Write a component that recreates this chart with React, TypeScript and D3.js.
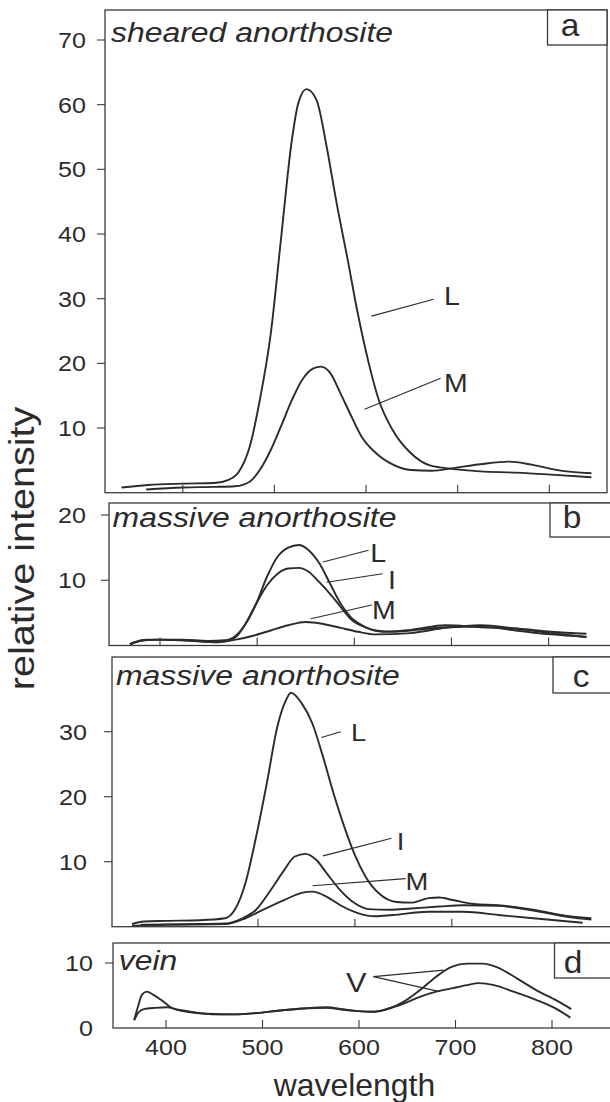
import React from "react";
import * as d3 from "d3";

// ---------- data (wavelength nm, relative intensity) ----------
const xTicks = [400, 500, 600, 700, 800];
const xTicksC = [500, 600, 700];

const aTicksY = [10, 20, 30, 40, 50, 60, 70];
const bTicksY = [10, 20];
const cTicksY = [10, 20, 30];
const dTicksY = [10];

const aL: [number, number][] = [
  [333, 0.8], [362, 1.2], [400, 1.4], [434, 1.5], [450, 2.0], [461, 3.2], [473, 7.1], [484, 14.3],
  [496, 24.6], [507, 39], [519, 54.5], [526, 60.2], [535, 62.4], [546, 60.7], [557, 53.5],
  [568, 44.7], [580, 36], [591, 27.7], [603, 20], [614, 14.3], [629, 9.7], [649, 6.1],
  [668, 4.3], [687, 3.8], [699, 3.6], [725, 3.3], [764, 3.1], [802, 2.8], [846, 2.4],
];
const aM: [number, number][] = [
  [360, 0.5], [400, 0.8], [434, 0.9], [457, 1.0], [473, 1.7], [484, 3.5], [496, 6.6], [507, 10.2],
  [519, 14.3], [530, 17.4], [542, 19.2], [551, 19.5], [561, 18.5], [572, 15.4], [584, 11.8],
  [595, 8.7], [611, 6.1], [630, 4.3], [649, 3.5], [672, 3.4], [695, 3.8], [725, 4.4],
  [756, 4.8], [782, 4.3], [809, 3.5], [846, 3.0],
];

const bL: [number, number][] = [
  [369, 0.15], [380, 0.7], [398, 0.9], [423, 0.9], [449, 0.7], [467, 0.8], [478, 1.5], [488, 3.3],
  [499, 6.4], [510, 10.5], [521, 13.6], [532, 15.0], [543, 15.4], [553, 14.6], [564, 12.6],
  [575, 9.5], [586, 6.4], [596, 4.4], [608, 3.1], [622, 2.3], [640, 2.1], [658, 2.3],
  [694, 2.8], [730, 2.9], [766, 2.3], [803, 1.7], [839, 1.3],
];
const bI: [number, number][] = [
  [369, 0.2], [382, 0.8], [400, 0.9], [425, 0.8], [449, 0.6], [467, 0.7], [478, 1.3], [488, 3.3],
  [499, 6.4], [510, 9.2], [521, 11.0], [532, 11.8], [543, 11.9], [553, 11.3], [564, 9.7],
  [575, 7.9], [586, 5.9], [596, 4.1], [611, 2.8], [629, 2.1], [658, 2.4], [694, 3.1],
  [730, 2.8], [766, 2.6], [803, 2.1], [839, 1.8],
];
const bM: [number, number][] = [
  [369, 0.2], [387, 0.9], [423, 0.8], [460, 0.5], [478, 0.9], [496, 1.5], [514, 2.3], [532, 3.1],
  [550, 3.6], [568, 3.3], [586, 2.7], [604, 2.1], [622, 1.7], [658, 1.9], [694, 2.7],
  [730, 3.1], [766, 2.6], [803, 1.9], [839, 1.3],
];

const cL: [number, number][] = [
  [370, 0.4], [382, 0.8], [404, 0.9], [440, 1.0], [466, 1.3], [476, 2.6], [487, 6.7], [498, 13.8],
  [509, 22], [520, 30.8], [529, 34.9], [534, 36.0], [545, 34.4], [556, 31.3], [567, 26.2],
  [578, 20.5], [589, 15.4], [600, 11.0], [611, 7.7], [625, 5.1], [643, 3.8], [658, 3.7],
  [676, 4.4], [687, 4.5], [701, 4.1], [723, 3.5], [748, 3.3], [784, 2.6], [821, 1.6], [844, 1.3],
];
const cI: [number, number][] = [
  [379, 0.3], [422, 0.4], [466, 0.5], [484, 1.3], [498, 2.6], [513, 5.6], [527, 8.7], [538, 10.8],
  [549, 11.2], [560, 10.3], [571, 8.2], [585, 5.6], [600, 3.6], [614, 2.7], [636, 2.6],
  [658, 2.8], [687, 3.1], [712, 3.3], [748, 3.2], [784, 2.5], [821, 1.5], [844, 1.1],
];
const cM: [number, number][] = [
  [370, 0.1], [404, 0.3], [466, 0.4], [487, 1.3], [505, 2.6], [527, 4.1], [545, 5.2], [556, 5.4],
  [571, 4.6], [585, 3.3], [603, 2.1], [621, 1.6], [639, 1.8], [676, 2.3], [712, 2.3],
  [748, 1.8], [784, 1.3], [835, 0.6],
];

const dV1: [number, number][] = [
  [367, 1.2], [371, 3.3], [375, 5.1], [380, 5.6], [387, 5.1], [397, 4.1], [407, 3.0], [422, 2.5],
  [442, 2.2], [470, 2.1], [494, 2.3], [518, 2.7], [542, 3.0], [567, 3.1], [583, 2.8],
  [599, 2.6], [615, 2.5], [631, 3.0], [647, 4.1], [663, 5.8], [680, 7.9], [696, 9.4],
  [712, 9.9], [728, 9.9], [744, 9.3], [764, 7.6], [784, 5.8], [805, 4.2], [820, 2.9],
];
const dV2: [number, number][] = [
  [367, 1.2], [371, 2.3], [377, 2.9], [389, 3.1], [401, 3.2], [413, 2.8], [430, 2.4], [450, 2.1],
  [470, 2.1], [494, 2.3], [518, 2.7], [542, 3.0], [567, 3.2], [583, 2.9], [599, 2.6],
  [615, 2.5], [631, 3.0], [647, 3.8], [663, 4.8], [680, 5.6], [696, 6.1], [712, 6.6],
  [724, 6.9], [740, 6.6], [760, 5.6], [784, 4.3], [805, 2.9], [819, 1.6],
];

// annotation leaders: [x1, y1, x2, y2] in data units, label position [x, y]
const aLabels = [
  { t: "L", line: [606, 27.3, 673.7, 29.9], pos: [685, 29.0] },
  { t: "M", line: [598.4, 12.9, 681.4, 17.7], pos: [685, 15.6] },
];
const bLabels = [
  { t: "L", line: [567.7, 12.8, 614.7, 14.6], pos: [616.5, 12.8] },
  { t: "I", line: [571.4, 9.7, 629.1, 11.0], pos: [634.6, 8.7] },
  { t: "M", line: [555.1, 4.1, 618.1, 6.2], pos: [618.1, 4.1] },
];
const cLabels = [
  { t: "L", line: [565.3, 29.1, 585.3, 30.0], pos: [596, 28.5] },
  { t: "I", line: [567.1, 10.9, 637.8, 13.6], pos: [643.2, 11.8] },
  { t: "M", line: [556.3, 6.3, 652.3, 7.4], pos: [652.3, 5.6] },
];
const dLabels = [
  { t: "", line: [615, 7.9, 687.7, 8.9], pos: [0, 0] },
  { t: "", line: [615, 7.9, 683.6, 5.6], pos: [0, 0] },
];
const dVText = { t: "V", pos: [586.5, 5.6] };

// ---------- layout ----------
const FONT = "'Liberation Sans', Arial, Helvetica, sans-serif";
const INK = "#2b2b2b";

type Panel = {
  key: string;
  left: number; right: number; top: number; bottom: number;
  x400: number; x800: number;
  ymax: number; yAtMax: number;
  title: string; titleX: number; titleBase: number;
  letter: string; box: [number, number, number, number]; letterX: number; letterBase: number;
  series: [number, number][][];
  yTicks: number[]; xTicks: number[];
  labelRight: number;
  labels: { t: string; line: number[]; pos: number[] }[];
  labelSize: number;
};

const panels: Panel[] = [
  {
    key: "a", left: 105, right: 607, top: 10, bottom: 492.7,
    x400: 182.8, x800: 549.3, ymax: 70, yAtMax: 40,
    title: "sheared anorthosite", titleX: 111, titleBase: 42,
    letter: "a", box: [547.5, 10, 607, 45], letterX: 570, letterBase: 36,
    series: [aL, aM], yTicks: aTicksY, xTicks: xTicks, labelRight: 86,
    labels: aLabels, labelSize: 25,
  },
  {
    key: "b", left: 109, right: 613, top: 503, bottom: 645.5,
    x400: 160, x800: 548.6, ymax: 20, yAtMax: 515,
    title: "massive anorthosite", titleX: 112.6, titleBase: 527,
    letter: "b", box: [550, 503, 613, 537], letterX: 572, letterBase: 528.3,
    series: [bL, bI, bM], yTicks: bTicksY, xTicks: xTicks, labelRight: 86,
    labels: bLabels, labelSize: 25,
  },
  {
    key: "c", left: 112, right: 613, top: 657, bottom: 926.7,
    x400: 161.1, x800: 548.7, ymax: 30, yAtMax: 731.7,
    title: "massive anorthosite", titleX: 116, titleBase: 685,
    letter: "c", box: [553, 657, 613, 693], letterX: 581, letterBase: 686.7,
    series: [cL, cI, cM], yTicks: cTicksY, xTicks: xTicksC, labelRight: 87,
    labels: cLabels, labelSize: 24,
  },
  {
    key: "d", left: 113, right: 613, top: 943, bottom: 1028,
    x400: 166, x800: 552, ymax: 10, yAtMax: 963,
    title: "vein", titleX: 118.7, titleBase: 970,
    letter: "d", box: [554.5, 943, 613, 978], letterX: 573, letterBase: 972.7,
    series: [dV1, dV2], yTicks: dTicksY, xTicks: xTicks, labelRight: 93,
    labels: dLabels, labelSize: 27,
  },
];

function Txt(props: {
  x: number; y: number; size: number; anchor?: string; italic?: boolean; sx?: number;
  rotate?: number; children: React.ReactNode;
}) {
  const { x, y, size, anchor = "start", italic = false, sx = 1.14, rotate = 0, children } = props;
  return (
    <text
      transform={`translate(${x},${y})${rotate ? ` rotate(${rotate})` : ""} scale(${sx},1)`}
      fontSize={size}
      fontFamily={FONT}
      fontStyle={italic ? "italic" : "normal"}
      textAnchor={anchor as any}
      fill={INK}
    >
      {children}
    </text>
  );
}

function PanelView({ p, showXLabels }: { p: Panel; showXLabels: boolean }) {
  const x = d3.scaleLinear().domain([400, 800]).range([p.x400, p.x800]);
  const y = d3.scaleLinear().domain([0, p.ymax]).range([p.bottom, p.yAtMax]);
  const line = d3
    .line<[number, number]>()
    .x((d) => x(d[0]))
    .y((d) => y(d[1]))
    .curve(d3.curveMonotoneX);
  const [bx0, by0, bx1, by1] = p.box;
  return (
    <g>
      {/* curves */}
      {p.series.map((s, i) => (
        <path key={i} d={line(s) || ""} fill="none" stroke={INK} strokeWidth={1.9} strokeLinejoin="round" />
      ))}
      {/* frame */}
      <rect x={p.left} y={p.top} width={p.right - p.left} height={p.bottom - p.top}
        fill="none" stroke="#3a3a3a" strokeWidth={1.3} />
      {/* letter box */}
      <rect x={bx0} y={by0} width={bx1 - bx0} height={by1 - by0} fill="white" stroke="#3a3a3a" strokeWidth={1.3} />
      <Txt x={p.letterX} y={p.letterBase} size={31} anchor="middle" sx={1.08}>{p.letter}</Txt>
      {/* title */}
      <Txt x={p.titleX} y={p.titleBase} size={28} italic>{p.title}</Txt>
      {/* y ticks */}
      {p.yTicks.map((t) => (
        <g key={t}>
          <line x1={p.left - 8} x2={p.left} y1={y(t)} y2={y(t)} stroke="#3a3a3a" strokeWidth={1.1} />
          <Txt x={p.labelRight} y={y(t) + 7.9} size={22} anchor="end">{t}</Txt>
        </g>
      ))}
      {/* x ticks (inward) */}
      {p.xTicks.map((t) => (
        <g key={t}>
          <line x1={x(t)} x2={x(t)} y1={p.bottom} y2={p.bottom - 8} stroke="#3a3a3a" strokeWidth={1.1} />
          {showXLabels && (
            <Txt x={x(t)} y={1055} size={22} anchor="middle">{t}</Txt>
          )}
        </g>
      ))}
      {/* label leaders */}
      {p.labels.map((l, i) => (
        <g key={i}>
          <line x1={x(l.line[0])} y1={y(l.line[1])} x2={x(l.line[2])} y2={y(l.line[3])}
            stroke={INK} strokeWidth={1.1} />
          {l.t && <Txt x={x(l.pos[0])} y={y(l.pos[1])} size={p.labelSize}>{l.t}</Txt>}
        </g>
      ))}
    </g>
  );
}

export default function App() {
  const pd = panels[3];
  const xd = d3.scaleLinear().domain([400, 800]).range([pd.x400, pd.x800]);
  const yd = d3.scaleLinear().domain([0, pd.ymax]).range([pd.bottom, pd.yAtMax]);
  return (
    <svg width={610} height={1102} viewBox="0 0 610 1102"
      style={{ position: "absolute", left: 0, top: 0, background: "white" }}>
      <rect x={0} y={0} width={610} height={1102} fill="white" />
      {panels.map((p) => (
        <PanelView key={p.key} p={p} showXLabels={p.key === "d"} />
      ))}
      {/* "0" label of panel d */}
      <Txt x={pd.labelRight} y={yd(0) + 7.9} size={22} anchor="end">0</Txt>
      {/* V label */}
      <Txt x={xd(dVText.pos[0])} y={yd(dVText.pos[1])} size={27}>{dVText.t}</Txt>
      {/* axis titles */}
      <Txt x={354.5} y={1096} size={31} anchor="middle" sx={1.03}>wavelength</Txt>
      <Txt x={34} y={548.5} size={35} anchor="middle" sx={1.13} rotate={-90}>relative intensity</Txt>
    </svg>
  );
}
